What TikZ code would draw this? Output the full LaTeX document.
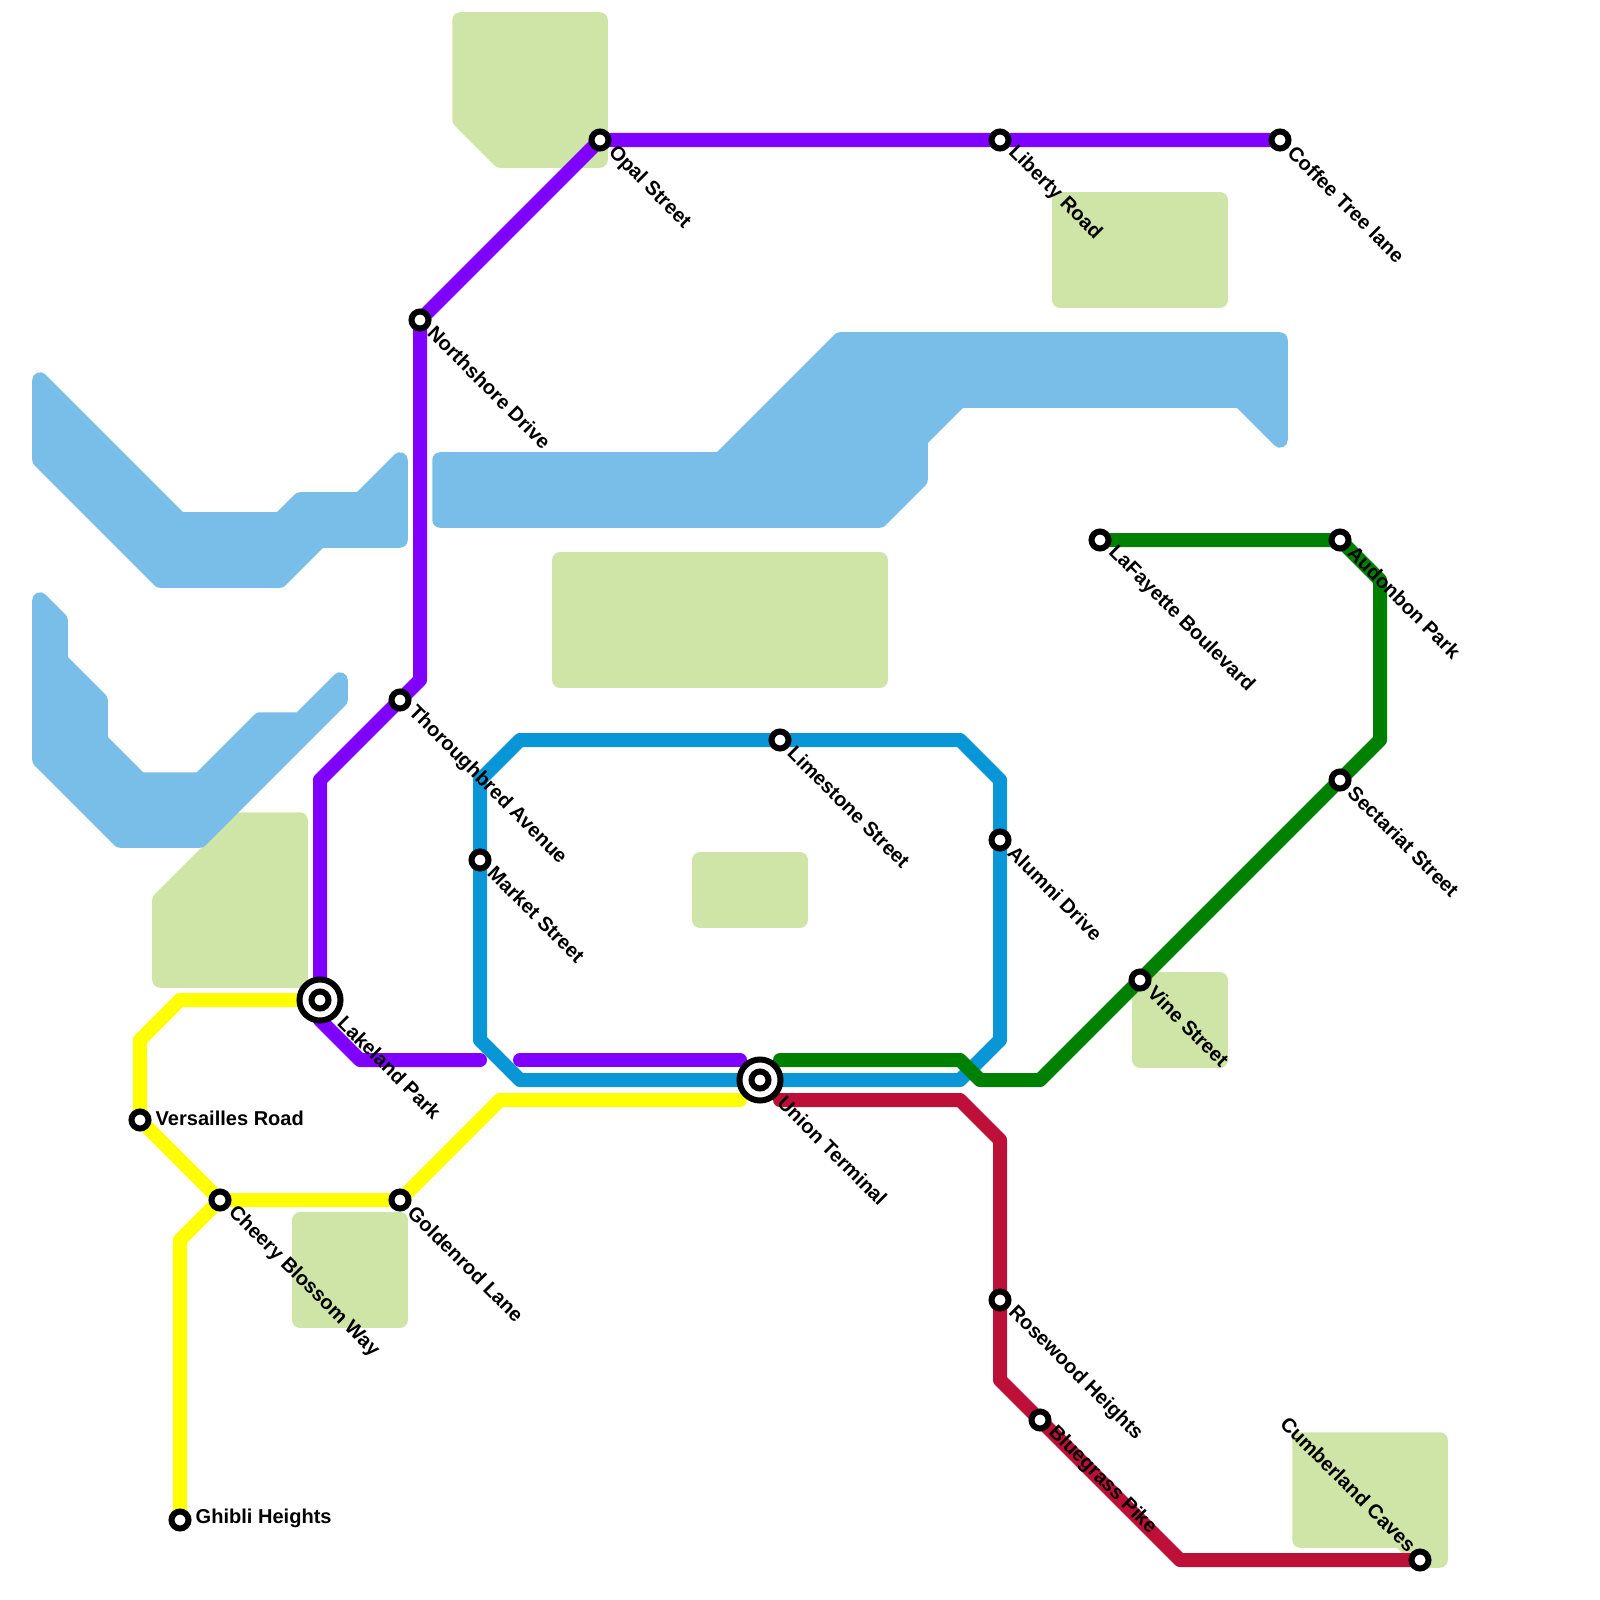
\documentclass[tikz,border=0pt]{standalone}
\usepackage{fontspec}
\setmainfont{Liberation Sans}
\definecolor{MetroPark}{HTML}{CFE4A7}
\definecolor{MetroWater}{HTML}{79BDE9}
\definecolor{MetroPurple}{HTML}{8000FF}
\definecolor{MetroTeal}{HTML}{0896D7}
\definecolor{MetroGreen}{HTML}{008000}
\definecolor{MetroRed}{HTML}{BD1038}
\definecolor{MetroYellow}{HTML}{FFFF00}
\pgfdeclarelayer{lines}
\pgfsetlayers{lines,main}
\tikzset{
  park/.style={fill=MetroPark,draw=MetroPark,line width=0.155cm,line join=round},
  water/.style={fill=MetroWater,draw=MetroWater,line width=0.155cm,line join=round},
  metro/.style={line width=0.14cm,line join=round,line cap=round,color=#1},
  stn/.style={circle,draw=black,fill=white,line width=0.06cm,minimum size=0.17cm,inner sep=0pt},
  bigstn/.style={circle,draw=black,fill=white,line width=0.06cm,minimum size=0.41cm,inner sep=0pt},
  lbl/.style={font=\fontsize{5.7}{7}\selectfont\bfseries,inner sep=0pt,anchor=west,shift={(#1+1,#1-1)},rotate=-45},
  lblflat/.style={font=\fontsize{5.7}{7}\selectfont\bfseries,inner sep=0pt,anchor=west,shift={(15,-2)}},
  lblback/.style={font=\fontsize{5.7}{7}\selectfont\bfseries,inner sep=0pt,anchor=east,shift={(-7,-11)},rotate=-45}
}
\begin{document}
\begin{tikzpicture}[x=0.01cm,y=-0.01cm]
  \useasboundingbox (0,0) rectangle (1600,1600);
  \node[stn] (coffee) at (1280,140) {};
  \node[stn] (liberty) at (1000,140) {};
  \node[stn] (opal) at (600,140) {};
  \node[stn] (northshore) at (420,320) {};
  \node[stn] (thoroughbred) at (400,700) {};
  \node[bigstn] (lakeland) at (320,1000) {};
  \node[stn] (lakelandcore) at (lakeland) {};
  \node[stn] (limestone) at (780,740) {};
  \node[stn] (alumni) at (1000,840) {};
  \node[stn] (market) at (480,860) {};
  \node[bigstn] (union) at (760,1080) {};
  \node[stn] (unioncore) at (union) {};
  \node[stn] (lafayette) at (1100,540) {};
  \node[stn] (audonbon) at (1340,540) {};
  \node[stn] (sectariat) at (1340,780) {};
  \node[stn] (vine) at (1140,980) {};
  \node[stn] (versailles) at (140,1120) {};
  \node[stn] (cheery) at (220,1200) {};
  \node[stn] (goldenrod) at (400,1200) {};
  \node[stn] (ghibli) at (180,1520) {};
  \node[stn] (rosewood) at (1000,1300) {};
  \node[stn] (bluegrass) at (1040,1420) {};
  \node[stn] (cumberland) at (1420,1560) {};
  \begin{pgfonlayer}{lines}
    \draw[park] (460,20)--(600,20)--(600,160)--(500,160)--(460,120)--cycle;
    \draw[park] (1060,200) rectangle (1220,300);
    \draw[park] (560,560) rectangle (880,680);
    \draw[park] (700,860) rectangle (800,920);
    \draw[park] (240,820)--(300,820)--(300,980)--(160,980)--(160,900)--cycle;
    \draw[park] (1140,980) rectangle (1220,1060);
    \draw[park] (300,1220) rectangle (400,1320);
    \draw[park] (1300,1440)--(1440,1440)--(1440,1560)--(1420,1560)--(1400,1540)--(1300,1540)--cycle;
    \draw[water] (40,380)--(180,520)--(280,520)--(300,500)--(360,500)--(400,460)--(400,540)
      --(320,540)--(280,580)--(160,580)--(40,460)--cycle;
    \draw[water] (40,600)--(60,620)--(60,660)--(100,700)--(100,740)--(140,780)--(200,780)
      --(260,720)--(300,720)--(340,680)--(340,700)--(200,840)--(120,840)--(40,760)--cycle;
    \draw[water] (440,460)--(720,460)--(840,340)--(1280,340)--(1280,440)--(1240,400)--(960,400)
      --(920,440)--(920,480)--(880,520)--(440,520)--cycle;
    \draw[metro=MetroYellow] (ghibli.center)--(180,1240)--(cheery.center)--(goldenrod.center)
      --(500,1100)--(740,1100);
    \draw[metro=MetroYellow] (lakeland.center)--(180,1000)--(140,1040)--(versailles.center)--(cheery.center);
    \draw[metro=MetroPurple] (coffee.center)--(liberty.center)--(opal.center)--(northshore.center)
      --(420,680)--(thoroughbred.center)--(320,780)--(lakeland.center)--(320,1020)--(360,1060)--(480,1060);
    \draw[metro=MetroPurple] (520,1060)--(740,1060);
    \draw[metro=MetroTeal] (union.center)--(520,1080)--(480,1040)--(market.center)--(480,780)--(520,740)
      --(limestone.center)--(960,740)--(1000,780)--(alumni.center)--(1000,1040)--(960,1080)--cycle;
    \draw[metro=MetroGreen] (lafayette.center)--(audonbon.center)--(1380,580)--(1380,740)--(sectariat.center)
      --(vine.center)--(1040,1080)--(980,1080)--(960,1060)--(780,1060);
    \draw[metro=MetroRed] (780,1100)--(960,1100)--(1000,1140)--(rosewood.center)--(1000,1380)
      --(bluegrass.center)--(1180,1560)--(cumberland.center);
  \end{pgfonlayer}
  \node[lbl=10] (coffeelabel) at (coffee) {Coffee Tree lane};
  \node[lbl=10] (libertylabel) at (liberty) {Liberty Road};
  \node[lbl=10] (opallabel) at (opal) {Opal Street};
  \node[lbl=10] (northshorelabel) at (northshore) {Northshore Drive};
  \node[lbl=10] (thoroughbredlabel) at (thoroughbred) {Thoroughbred Avenue};
  \node[lbl=20] (lakelandlabel) at (lakeland) {Lakeland Park};
  \node[lbl=10] (limestonelabel) at (limestone) {Limestone Street};
  \node[lbl=10] (alumnilabel) at (alumni) {Alumni Drive};
  \node[lbl=10] (marketlabel) at (market) {Market Street};
  \node[lbl=20] (unionlabel) at (union) {Union Terminal};
  \node[lbl=10] (lafayettelabel) at (lafayette) {LaFayette Boulevard};
  \node[lbl=10] (audonbonlabel) at (audonbon) {Audonbon Park};
  \node[lbl=10] (sectariatlabel) at (sectariat) {Sectariat Street};
  \node[lbl=10] (vinelabel) at (vine) {Vine Street};
  \node[lblflat] (versailleslabel) at (versailles) {Versailles Road};
  \node[lbl=10] (cheerylabel) at (cheery) {Cheery Blossom Way};
  \node[lbl=10] (goldenrodlabel) at (goldenrod) {Goldenrod Lane};
  \node[lblflat] (ghiblilabel) at (ghibli) {Ghibli Heights};
  \node[lbl=10] (rosewoodlabel) at (rosewood) {Rosewood Heights};
  \node[lbl=10] (bluegrasslabel) at (bluegrass) {Bluegrass Pike};
  \node[lblback] (cumberlandlabel) at (cumberland) {Cumberland Caves};
\end{tikzpicture}
\end{document}
